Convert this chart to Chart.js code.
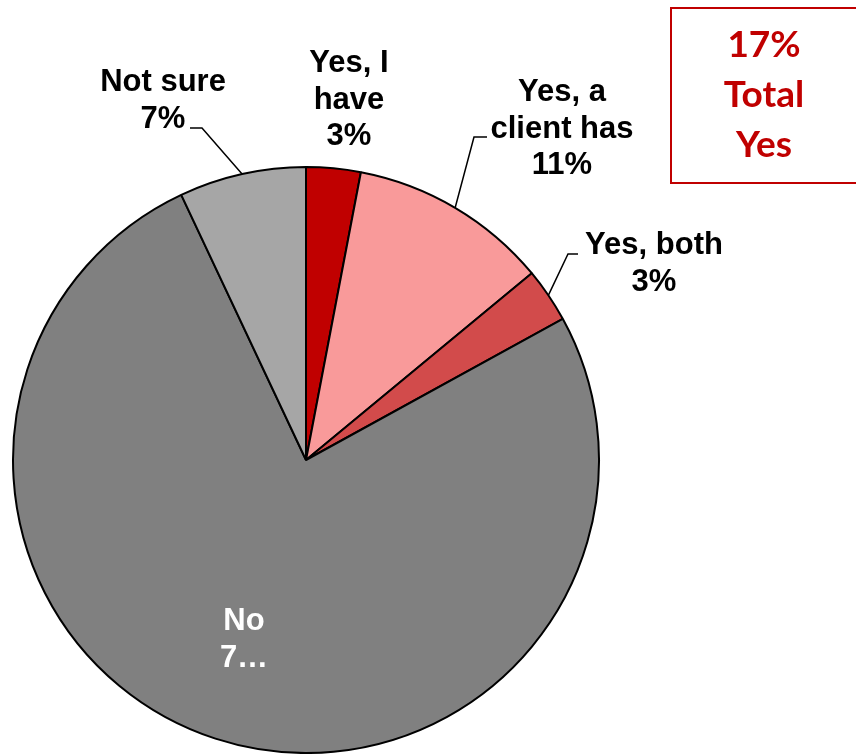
<!DOCTYPE html>
<html>
<head>
<meta charset="utf-8">
<style>
  html, body { margin: 0; padding: 0; background: #ffffff; }
  #wrap { width: 856px; height: 754px; position: relative; }
</style>
<script src="https://cdn.jsdelivr.net/npm/chart.js@4/dist/chart.umd.min.js"></script>
</head>
<body>
<div id="wrap"><canvas id="pie" width="856" height="754"></canvas></div>
<script>
// Survey answers, clockwise from 12 o'clock
const categories = ['Yes, I have', 'Yes, a client has', 'Yes, both', 'No', 'Not sure'];
const values = [3, 11, 3, 76, 7];
const sliceColors = ['#C00000', '#F99A9A', '#D24B4B', '#808080', '#A6A6A6'];
// Label lines per slice (the "No" label is clipped inside its slice)
const labelLines = [
  ['Yes, I', 'have', '3%'],
  ['Yes, a', 'client has', '11%'],
  ['Yes, both', '3%'],
  ['No', '7\u2026'],
  ['Not sure', '7%']
];
const totalLines = ['17%', 'Total', 'Yes'];

// Label placement relative to the pie centre (x, first baseline) and optional leader elbow/end
const labelLayout = [
  { x: 43,  y: -388, color: '#000000' },
  { x: 256, y: -359, color: '#000000', elbow: [168, -323], end: [181, -323] },
  { x: 348, y: -206, color: '#000000', elbow: [262, -206], end: [272, -206] },
  { x: -62, y: 170,  color: '#ffffff' },
  { x: -143, y: -369, color: '#000000', elbow: [-104, -332], end: [-116, -332] }
];

const pieLabels = {
  id: 'pieLabels',
  afterDatasetsDraw(chart) {
    const ctx = chart.ctx;
    const meta = chart.getDatasetMeta(0);
    ctx.save();
    meta.data.forEach((arc, i) => {
      const p = arc.getProps(['x', 'y', 'startAngle', 'endAngle', 'outerRadius'], true);
      const cx = p.x, cy = p.y;
      const L = labelLayout[i];
      if (L.elbow) {
        const mid = (p.startAngle + p.endAngle) / 2;
        ctx.beginPath();
        ctx.moveTo(cx + Math.cos(mid) * p.outerRadius, cy + Math.sin(mid) * p.outerRadius);
        ctx.lineTo(cx + L.elbow[0], cy + L.elbow[1]);
        ctx.lineTo(cx + L.end[0], cy + L.end[1]);
        ctx.strokeStyle = '#000000';
        ctx.lineWidth = 1.5;
        ctx.stroke();
      }
      ctx.font = 'bold 31px "Liberation Sans", Arial, sans-serif';
      ctx.fillStyle = L.color;
      ctx.textAlign = 'center';
      ctx.textBaseline = 'alphabetic';
      labelLines[i].forEach((t, k) => {
        ctx.fillText(t, cx + L.x, cy + L.y + k * 36.5);
      });
    });
    ctx.restore();
  },
  afterDraw(chart) {
    const ctx = chart.ctx;
    ctx.save();
    ctx.strokeStyle = '#C00000';
    ctx.lineWidth = 2;
    ctx.strokeRect(671, 8, 210, 175);
    ctx.font = 'bold 37px Lato, "Open Sans", sans-serif';
    ctx.fillStyle = '#C00000';
    ctx.textAlign = 'center';
    ctx.textBaseline = 'alphabetic';
    totalLines.forEach((t, k) => ctx.fillText(t, 764, 57 + k * 50));
    ctx.restore();
  }
};

new Chart(document.getElementById('pie'), {
  type: 'pie',
  data: {
    labels: categories,
    datasets: [{
      data: values,
      backgroundColor: sliceColors,
      borderColor: '#000000',
      borderWidth: 2
    }]
  },
  options: {
    responsive: false,
    animation: false,
    layout: { padding: { left: 12, top: 166, right: 256, bottom: 0 } },
    plugins: {
      legend: { display: false },
      tooltip: { enabled: false }
    }
  },
  plugins: [pieLabels]
});
</script>
</body>
</html>
